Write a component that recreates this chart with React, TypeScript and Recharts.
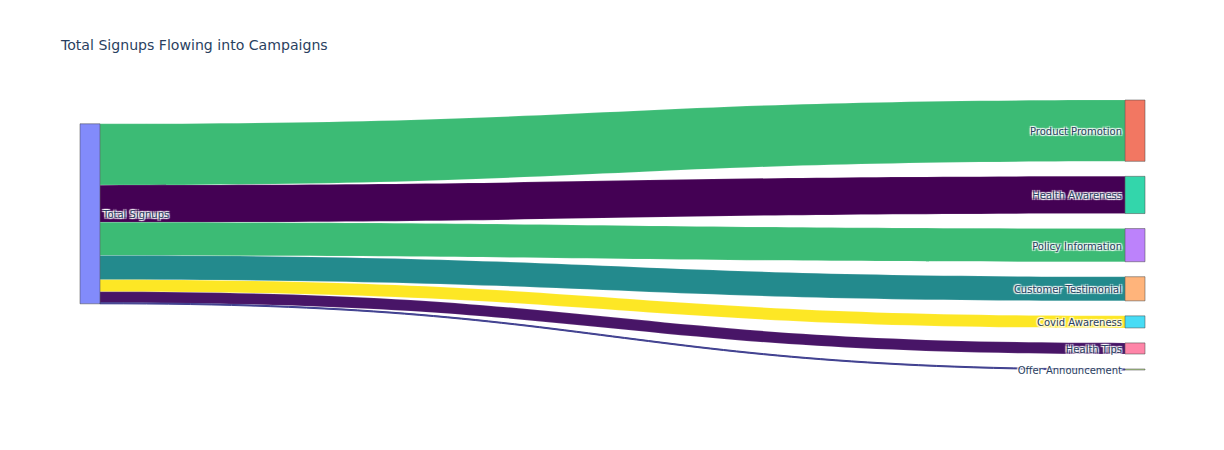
import { Layer, Rectangle, Sankey } from 'recharts';

const sourceName = 'Total Signups';
const campaigns = [
  'Product Promotion',
  'Health Awareness',
  'Policy Information',
  'Customer Testimonial',
  'Covid Awareness',
  'Health Tips',
  'Offer Announcement',
];
const signups = [610, 370, 330, 240, 120, 110, 10];
const nodeColors = ['#636efa', '#EF553B', '#00cc96', '#ab63fa', '#FFA15A', '#19d3f3', '#FF6692', '#B6E880'];
const linkColors = ['#3CBB75', '#440154', '#3CBB75', '#238A8D', '#FDE725', '#481567', '#3F3F8F'];

const data = {
  nodes: [{ name: sourceName }, ...campaigns.map((name) => ({ name }))],
  links: signups.map((value, i) => ({ source: 0, target: i + 1, value })),
};

const fontFamily = '"DejaVu Sans", verdana, arial, sans-serif';
const labelShadow =
  '1px 1px 1px #fff, -1px -1px 1px #fff, 1px -1px 1px #fff, -1px 1px 1px #fff';

function SankeyNode(props: any) {
  const { x, y, width, height, index, payload } = props;
  const isSource = index === 0;
  return (
    <Layer key={`node-${index}`}>
      <Rectangle
        x={x}
        y={y}
        width={width}
        height={Math.max(height, 0.5)}
        fill={nodeColors[index]}
        fillOpacity={0.8}
        stroke="#444"
        strokeWidth={0.5}
      />
      <text
        x={isSource ? x + width + 3 : x - 3}
        y={y + height / 2 + 1}
        textAnchor={isSource ? 'start' : 'end'}
        dominantBaseline="central"
        fontSize={10}
        fontFamily={fontFamily}
        fill="#2a3f5f"
        style={{ textShadow: labelShadow }}
      >
        {payload.name}
      </text>
    </Layer>
  );
}

function SankeyLink(props: any) {
  const { sourceX, targetX, sourceY, targetY, sourceControlX, targetControlX, linkWidth, index } = props;
  const h = linkWidth / 2;
  const d = `M${sourceX},${sourceY - h} C${sourceControlX},${sourceY - h} ${targetControlX},${targetY - h} ${targetX},${targetY - h} L${targetX},${targetY + h} C${targetControlX},${targetY + h} ${sourceControlX},${sourceY + h} ${sourceX},${sourceY + h} Z`;
  const color = linkColors[index];
  return (
    <path
      key={`link-${index}`}
      d={d}
      fill={color}
      stroke={linkWidth < 2 ? color : 'rgba(255,255,255,0.25)'}
      strokeWidth={linkWidth < 2 ? 1 : 0.5}
    />
  );
}

export default function App() {
  return (
    <div style={{ position: 'absolute', left: 0, top: 0, width: 1224, height: 450, background: '#fff' }}>
      <div
        style={{
          position: 'absolute',
          left: 61,
          top: 37,
          fontSize: 14.1,
          lineHeight: '17px',
          fontFamily,
          color: '#2a3f5f',
          whiteSpace: 'nowrap',
        }}
      >
        Total Signups Flowing into Campaigns
      </div>
      <Sankey
        width={1224}
        height={450}
        data={data}
        nodeWidth={20}
        nodePadding={15}
        margin={{ top: 100, right: 79, bottom: 80, left: 80 }}
        node={SankeyNode}
        link={SankeyLink}
        iterations={32}
      />
    </div>
  );
}
